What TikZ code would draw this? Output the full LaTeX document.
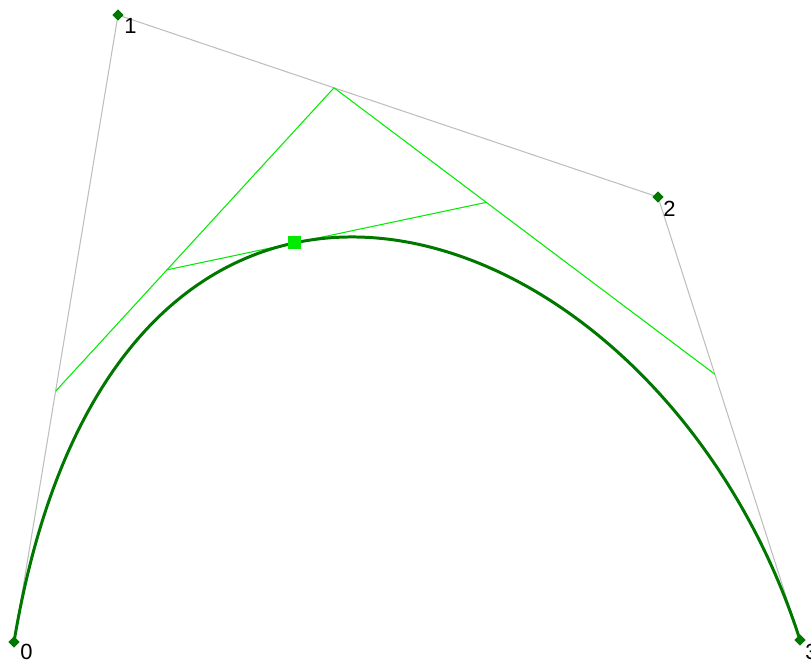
\documentclass[tikz,border=0pt]{standalone}
\usepackage{fontspec}
\setmainfont{Liberation Sans}
\usetikzlibrary{calc,shapes.geometric}
\definecolor{curvegreen}{RGB}{0,120,0}
\definecolor{hullgray}{RGB}{190,190,190}
\definecolor{litegreen}{RGB}{0,235,0}
\tikzset{
	ctrlpt/.style={shape=diamond, fill=curvegreen, inner sep=0pt, minimum width=0.23cm, minimum height=0.23cm},
	ptlabel/.style={anchor=north west, inner sep=0pt, font=\fontsize{12.5}{14}\selectfont},
	hull/.style={line width=0.6pt, draw=hullgray},
	casteljau/.style={line width=0.6pt, draw=litegreen},
}
\begin{document}
\begin{tikzpicture}[x=0.02cm, y=-0.02cm]
	\useasboundingbox (0,0) rectangle (811,664);
	\coordinate (p0) at (14, 642);
	\coordinate (p1) at (118, 15);
	\coordinate (p2) at (658, 197);
	\coordinate (p3) at (800, 640);
	% control polygon
	\draw[hull] (p0) -- (p1) -- (p2) -- (p3);
	% de Casteljau at t=0.4
	\coordinate (q0) at ($(p0)!0.4!(p1)$);
	\coordinate (q1) at ($(p1)!0.4!(p2)$);
	\coordinate (q2) at ($(p2)!0.4!(p3)$);
	\coordinate (r0) at ($(q0)!0.4!(q1)$);
	\coordinate (r1) at ($(q1)!0.4!(q2)$);
	\coordinate (s0) at ($(r0)!0.4!(r1)$);
	\draw[casteljau] (q0) -- (q1) -- (q2);
	\draw[casteljau] (r0) -- (r1);
	% curve
	\draw[line width=1.7pt, draw=curvegreen] (p0) .. controls (p1) and (p2) .. (p3);
	\node[shape=rectangle, fill=litegreen, minimum width=0.26cm, minimum height=0.26cm, inner sep=0pt] (mark) at (s0){};
	% control points
	\node[ctrlpt] (n0) at (p0){};
	\node[ctrlpt] (n1) at (p1){};
	\node[ctrlpt] (n2) at (p2){};
	\node[ctrlpt] (n3) at (p3){};
	\node[ptlabel] (l0) at (20, 644){0};
	\node[ptlabel] (l1) at (124, 18){1};
	\node[ptlabel] (l2) at (663, 201){2};
	\node[ptlabel] (l3) at (805, 644){3};
\end{tikzpicture}
\end{document}
